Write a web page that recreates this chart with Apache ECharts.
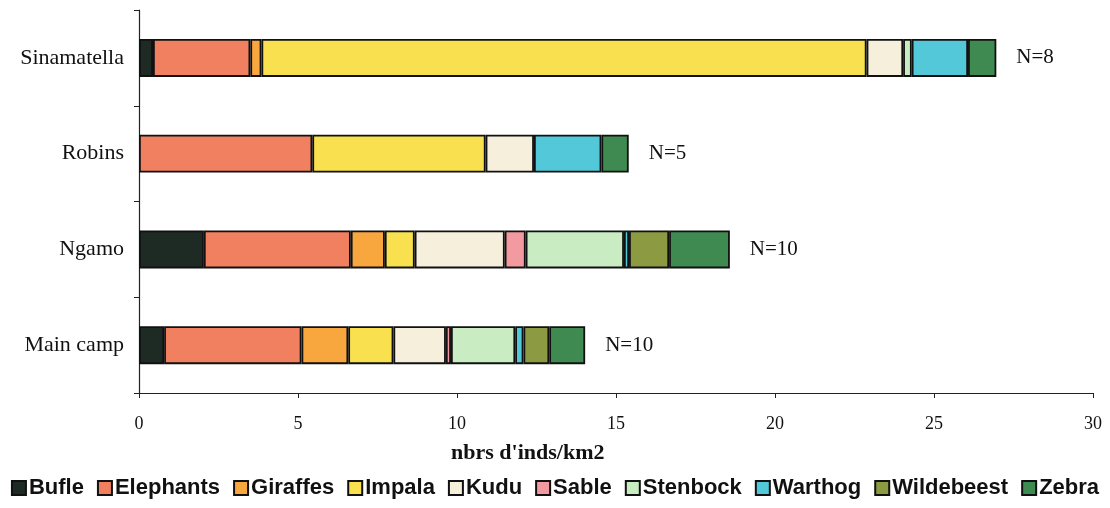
<!DOCTYPE html>
<html>
<head>
<meta charset="utf-8">
<script src="https://cdn.jsdelivr.net/npm/echarts@6/dist/echarts.min.js"></script>
<style>html,body{margin:0;padding:0;background:#fff}#c{width:1110px;height:508px}</style>
</head>
<body>
<div id="c"></div>
<script>
var categories = ['Main camp', 'Ngamo', 'Robins', 'Sinamatella'];
var nLabels = ['N=10', 'N=10', 'N=5', 'N=8'];
var seriesNames = ['Bufle', 'Elephants', 'Giraffes', 'Impala', 'Kudu', 'Sable', 'Stenbock', 'Warthog', 'Wildebeest', 'Zebra'];
var colors = ['#1e2a24', '#f0805f', '#f8a63e', '#f8e04e', '#f5efdc', '#f29aa0', '#c9ecc2', '#52c8d8', '#8c9a42', '#3f8a50'];
// values per series, in category order [Main camp, Ngamo, Robins, Sinamatella]
var bufle      = [0.79, 2.04, 0,    0.44];
var elephants  = [4.32, 4.62, 5.45, 3.06];
var giraffes   = [1.47, 1.07, 0,    0.35];
var impala     = [1.42, 0.94, 5.45, 19.03];
var kudu       = [1.65, 2.83, 1.52, 1.15];
var sable      = [0.16, 0.66, 0,    0];
var stenbock   = [2.02, 3.09, 0,    0.27];
var warthog    = [0.26, 0.16, 2.12, 1.77];
var wildebeest = [0.81, 1.26, 0,    0];
var zebra      = [1.13, 1.91, 0.86, 0.89];
var xTicks = [0, 5, 10, 15, 20, 25, 30];

var values = [bufle, elephants, giraffes, impala, kudu, sable, stenbock, warthog, wildebeest, zebra];
var series = seriesNames.map(function (name, i) {
  var s = {
    name: name,
    type: 'bar',
    stack: 'total',
    barWidth: 38,
    data: values[i].map(function (v) { return v === 0 ? null : v; }),
    itemStyle: { color: colors[i], borderColor: '#111', borderWidth: 1.8 },
    emphasis: { disabled: true }
  };
  if (i === seriesNames.length - 1) {
    s.label = {
      show: true, position: 'right', distance: 20,
      formatter: function (p) { return nLabels[p.dataIndex]; },
      fontFamily: 'Liberation Serif', fontSize: 21, color: '#111'
    };
  }
  return s;
});

var chart = echarts.init(document.getElementById('c'));
chart.setOption({
  backgroundColor: '#fff',
  animation: false,
  title: {
    text: "nbrs d'inds/km2",
    left: 446, top: 437,
    textStyle: { fontFamily: 'Liberation Serif', fontSize: 22, fontWeight: 'bold', color: '#111' }
  },
  legend: {
    data: seriesNames,
    bottom: 4,
    left: 'center',
    itemWidth: 14, itemHeight: 14, itemGap: 13,
    icon: 'rect',
    textStyle: { fontFamily: 'Liberation Sans', fontSize: 22, fontWeight: 'bold', color: '#111', padding: [0, 0, 0, -2] }
  },
  grid: { left: 139, right: 17, top: 10, bottom: 115, containLabel: false },
  xAxis: {
    type: 'value', min: 0, max: 30, interval: 5,
    axisLine: { show: true, lineStyle: { color: '#222', width: 1.2 } },
    axisTick: { show: true, length: 5, lineStyle: { color: '#222' } },
    splitLine: { show: false },
    axisLabel: { margin: 22, fontFamily: 'Liberation Serif', fontSize: 18, color: '#111',
      formatter: function (v) { return xTicks.indexOf(v) >= 0 ? String(v) : ''; } }
  },
  yAxis: {
    type: 'category', data: categories,
    axisLine: { show: true, lineStyle: { color: '#222', width: 1.2 } },
    axisTick: { show: true, length: 5, alignWithLabel: false, lineStyle: { color: '#222' } },
    axisLabel: { margin: 15, fontFamily: 'Liberation Serif', fontSize: 22, color: '#111' }
  },
  series: series
});
</script>
</body>
</html>
